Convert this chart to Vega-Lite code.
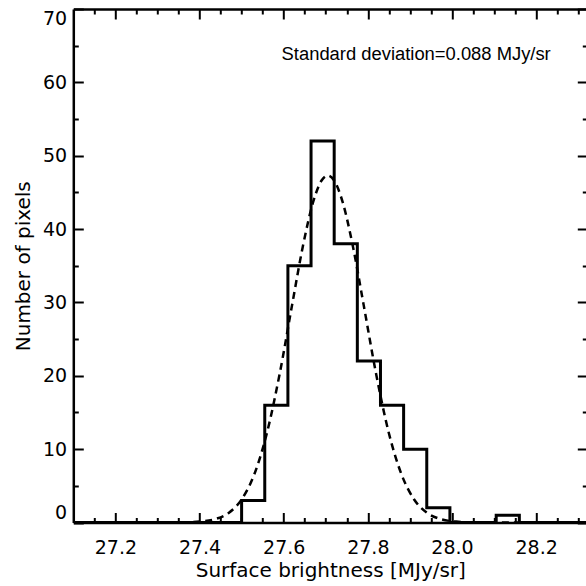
{
  "$schema": "https://vega.github.io/schema/vega-lite/v6.json",
  "width": 514,
  "height": 513.5,
  "autosize": "none",
  "padding": {"left": 73.3, "top": 9, "right": 0, "bottom": 63.5},
  "background": "white",
  "config": {
    "view": {"stroke": null},
    "axis": {
      "domainColor": "black",
      "domainWidth": 2.5,
      "tickColor": "black",
      "tickWidth": 2,
      "labelColor": "black",
      "labelFont": "DejaVu Sans",
      "labelFontSize": 19,
      "titleFont": "DejaVu Sans",
      "titleFontSize": 20,
      "titleFontWeight": "normal",
      "titleColor": "black",
      "grid": false
    }
  },
  "datasets": {
    "hist": [
      {"x": 27.1, "count": 0},
      {"x": 27.5, "count": 3},
      {"x": 27.555, "count": 16},
      {"x": 27.61, "count": 35},
      {"x": 27.665, "count": 52},
      {"x": 27.72, "count": 38},
      {"x": 27.775, "count": 22},
      {"x": 27.83, "count": 16},
      {"x": 27.885, "count": 10},
      {"x": 27.94, "count": 2},
      {"x": 27.995, "count": 0},
      {"x": 28.105, "count": 1},
      {"x": 28.16, "count": 0},
      {"x": 28.3215, "count": 0}
    ],
    "fit": [
      {"x": 27.1, "y": 0},
      {"x": 27.3, "y": 0},
      {"x": 27.36, "y": 0.02},
      {"x": 27.4, "y": 0.12},
      {"x": 27.44, "y": 0.51},
      {"x": 27.47, "y": 1.34},
      {"x": 27.5, "y": 3.14},
      {"x": 27.53, "y": 6.55},
      {"x": 27.56, "y": 12.17},
      {"x": 27.59, "y": 20.14},
      {"x": 27.62, "y": 29.67},
      {"x": 27.645, "y": 37.49},
      {"x": 27.67, "y": 43.7},
      {"x": 27.69, "y": 46.62},
      {"x": 27.705, "y": 47.3},
      {"x": 27.72, "y": 46.62},
      {"x": 27.74, "y": 43.7},
      {"x": 27.765, "y": 37.49},
      {"x": 27.79, "y": 29.67},
      {"x": 27.82, "y": 20.14},
      {"x": 27.85, "y": 12.17},
      {"x": 27.88, "y": 6.55},
      {"x": 27.91, "y": 3.14},
      {"x": 27.94, "y": 1.34},
      {"x": 27.97, "y": 0.51},
      {"x": 28.01, "y": 0.12},
      {"x": 28.05, "y": 0.02},
      {"x": 28.1, "y": 0},
      {"x": 28.3215, "y": 0}
    ]
  },
  "resolve": {"axis": {"x": "independent", "y": "independent"}},
  "layer": [
    {
      "data": {"name": "hist"},
      "mark": {"type": "line", "interpolate": "step-after", "color": "black", "strokeWidth": 3, "clip": true},
      "encoding": {
        "x": {
          "field": "x", "type": "quantitative",
          "scale": {"domain": [27.1, 28.3215], "nice": false, "zero": false},
          "axis": {
            "orient": "bottom",
            "values": [27.2, 27.4, 27.6, 27.8, 28.0, 28.2],
            "format": ".1f",
            "tickSize": -10,
            "labelPadding": 26.5,
            "title": "Surface brightness [MJy/sr]",
            "titlePadding": 3
          }
        },
        "y": {
          "field": "count", "type": "quantitative",
          "scale": {"domain": [0, 70], "nice": false},
          "axis": {
            "orient": "left",
            "values": [0, 10, 20, 30, 40, 50, 60, 70],
            "tickSize": -10,
            "labelPadding": 16.6,
            "labelFlush": true,
            "title": "Number of pixels",
            "titlePadding": 9.5
          }
        }
      }
    },
    {
      "data": {"name": "fit"},
      "mark": {"type": "line", "interpolate": "monotone", "color": "black", "strokeWidth": 2.5, "strokeDash": [7, 5], "clip": true},
      "encoding": {
        "x": {
          "field": "x", "type": "quantitative",
          "axis": {
            "orient": "bottom",
            "values": [27.15, 27.25, 27.3, 27.35, 27.45, 27.5, 27.55, 27.65, 27.7, 27.75, 27.85, 27.9, 27.95, 28.05, 28.1, 28.15, 28.25, 28.3],
            "tickSize": -5,
            "labels": false,
            "domain": false,
            "title": null
          }
        },
        "y": {
          "field": "y", "type": "quantitative",
          "axis": {
            "orient": "left",
            "values": [5, 15, 25, 35, 45, 55, 65],
            "tickSize": -5,
            "labels": false,
            "domain": false,
            "title": null
          }
        }
      }
    },
    {
      "data": {"values": [{"label": "Standard deviation=0.088 MJy/sr"}]},
      "mark": {"type": "text", "align": "left", "baseline": "alphabetic", "font": "Liberation Sans", "fontSize": 18.4, "color": "black"},
      "encoding": {
        "text": {"field": "label"},
        "x": {
          "datum": 27.595, "type": "quantitative",
          "axis": {
            "orient": "top",
            "values": [27.2, 27.4, 27.6, 27.8, 28.0, 28.2],
            "tickSize": -10,
            "labels": false,
            "title": null
          }
        },
        "y": {
          "datum": 63, "type": "quantitative",
          "axis": {
            "orient": "right",
            "values": [0, 10, 20, 30, 40, 50, 60, 70],
            "tickSize": -10,
            "labels": false,
            "title": null
          }
        }
      }
    },
    {
      "data": {"name": "fit"},
      "mark": {"type": "line", "opacity": 0},
      "encoding": {
        "x": {
          "field": "x", "type": "quantitative",
          "axis": {
            "orient": "top",
            "values": [27.15, 27.25, 27.3, 27.35, 27.45, 27.5, 27.55, 27.65, 27.7, 27.75, 27.85, 27.9, 27.95, 28.05, 28.1, 28.15, 28.25, 28.3],
            "tickSize": -5,
            "labels": false,
            "domain": false,
            "title": null
          }
        },
        "y": {
          "field": "y", "type": "quantitative",
          "axis": {
            "orient": "right",
            "values": [5, 15, 25, 35, 45, 55, 65],
            "tickSize": -5,
            "labels": false,
            "domain": false,
            "title": null
          }
        }
      }
    }
  ]
}
